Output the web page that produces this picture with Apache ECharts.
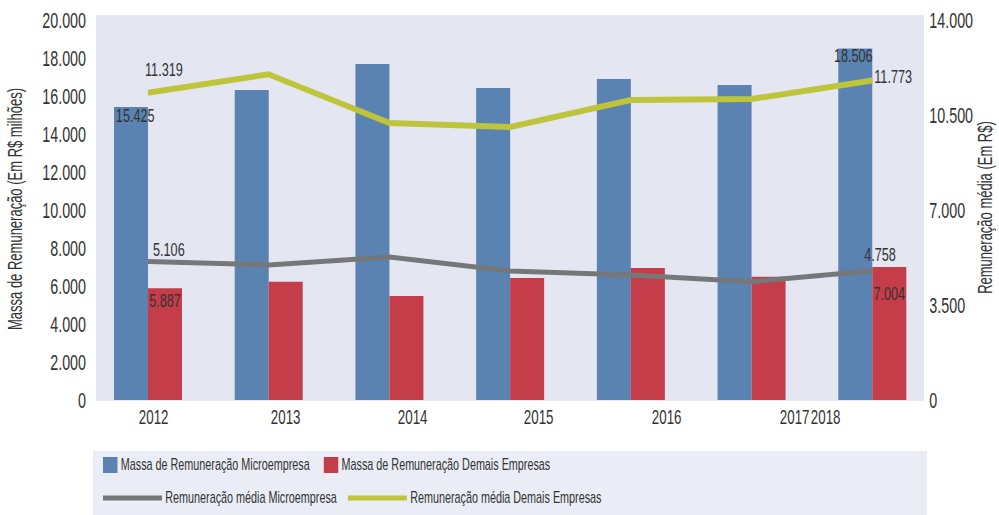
<!DOCTYPE html>
<html>
<head>
<meta charset="utf-8">
<script src="https://cdn.jsdelivr.net/npm/echarts@6/dist/echarts.min.js"></script>
<style>
  html, body { margin: 0; padding: 0; background: #ffffff; overflow: hidden; width: 999px; height: 515px; }
  /* the chart is laid out on a wider canvas and squeezed horizontally,
     which gives every label a condensed typeface */
  #chart { width: 1498.5px; height: 515px; transform: scaleX(0.6666667); transform-origin: 0 0; }
</style>
</head>
<body>
<div id="chart"></div>
<script>
// Anos da série
const categories = ['2012', '2013', '2014', '2015', '2016', '2017', '2018'];

// Massa de remuneração (R$ milhões) - eixo esquerdo
const massaMicro  = [15425, 16316, 17684, 16421, 16895, 16579, 18506];
const massaDemais = [5887, 6228, 5474, 6421, 6947, 6491, 7004];

// Remuneração média (R$) - eixo direito
const mediaMicro  = [5106, 4974, 5268, 4753, 4605, 4358, 4758];
const mediaDemais = [11319, 12000, 10205, 10058, 11053, 11089, 11773];

// Rótulos do eixo horizontal
const yearLabels = ['2012', '2013', '2014', '2015', '2016', '2017', '2018'];

// Ticks dos eixos verticais
const leftTicks  = { min: 0, max: 20000, interval: 2000 };
const rightTicks = { min: 0, max: 14000, interval: 3500 };

const seriesNames = [
  'Massa de Remuneração Microempresa',
  'Massa de Remuneração Demais Empresas',
  'Remuneração média Microempresa',
  'Remuneração média Demais Empresas'
];
const axisNames = ['Massa de Remuneração (Em R$ milhões)', 'Remuneração média (Em R$)'];

// ---- layout / style ----
const SX = 1.5;                       // horizontal stretch of the drawing canvas
const sx = v => v * SX;               // page px -> canvas px (horizontal)
const FONT = "'Liberation Sans', Arial, sans-serif";
const TXT = '#333333';
const COLORS = { blue: '#5b83b1', red: '#c43d49', gray: '#767778', green: '#bec53a' };

const GRID = { left: 87.65, width: 845, top: 20, height: 380 };   // page px
// where the year labels sit along the plot width (page px from the plot's left edge)
const yearLabelSlots = [66, 198, 325, 451, 579, 707, 738];

const fmt = v => String(Math.round(v)).replace(/\B(?=(\d{3})+(?!\d))/g, '.');

// attach a visible label to the first and last point of a series
function withEndLabels(values, firstLabel, lastLabel) {
  const last = values.length - 1;
  return values.map((v, i) => {
    if (i === 0) return { value: v, label: Object.assign({ show: true }, firstLabel) };
    if (i === last) return { value: v, label: Object.assign({ show: true }, lastLabel) };
    return v;
  });
}

const dataLabel = { formatter: p => fmt(p.value), color: TXT, fontSize: 19, fontFamily: FONT };

function yearAxis(slotIdx) {
  const vals = slotIdx.map(i => yearLabelSlots[i]);
  return {
    type: 'value',
    position: 'bottom',
    min: 0, max: GRID.width,
    axisLine: { show: false },
    axisTick: { show: false },
    splitLine: { show: false },
    axisLabel: {
      customValues: vals,
      formatter: v => yearLabels[yearLabelSlots.indexOf(v)] || '',
      color: TXT, fontSize: 20, fontFamily: FONT, margin: 8,
      hideOverlap: false
    }
  };
}

function axisNameText(text, x, y) {
  return {
    type: 'text', silent: true,
    x: sx(x), y: y,
    rotation: Math.PI / 2,
    scaleX: 1 / SX, scaleY: SX,
    style: { text: text, fill: TXT, fontSize: 19.5, fontFamily: FONT, align: 'center', verticalAlign: 'middle' }
  };
}

const chart = echarts.init(document.getElementById('chart'), null, { renderer: 'svg', width: sx(999), height: 515 });

chart.setOption({
  animation: false,
  backgroundColor: '#ffffff',
  textStyle: { fontFamily: FONT },
  graphic: {
    elements: [
      { type: 'rect', z: -100, silent: true, shape: { x: sx(96), y: 15, width: sx(828), height: 386 }, style: { fill: '#e4e7f1' } },
      { type: 'rect', z: -100, silent: true, shape: { x: sx(93), y: 451, width: sx(834), height: 64 }, style: { fill: '#eaedf5' } },
      axisNameText(axisNames[0], 16, 209),
      axisNameText(axisNames[1], 986, 207.5)
    ]
  },
  grid: {
    left: sx(GRID.left), top: GRID.top,
    width: sx(GRID.width), height: GRID.height,
    containLabel: false, outerBoundsMode: 'none'
  },
  legend: [
    {
      data: seriesNames.slice(0, 2),
      left: sx(103), top: 457, padding: 0,
      itemWidth: sx(14.5), itemHeight: 16, itemGap: sx(14),
      icon: 'rect',
      textStyle: { fontSize: 16.2, color: TXT, fontFamily: FONT }
    },
    {
      data: seriesNames.slice(2, 4),
      left: sx(103), top: 490, padding: 0,
      itemWidth: sx(59), itemHeight: 5, itemGap: sx(11),
      icon: 'rect',
      textStyle: { fontSize: 16.2, color: TXT, fontFamily: FONT }
    }
  ],
  xAxis: [
    {
      type: 'category',
      data: categories,
      boundaryGap: true,
      axisLine: { show: false },
      axisTick: { show: false },
      axisLabel: { show: false },
      splitLine: { show: false }
    },
    yearAxis([0, 1, 2, 3, 4, 5]),
    yearAxis([6])
  ],
  yAxis: [
    {
      type: 'value',
      min: leftTicks.min, max: leftTicks.max, interval: leftTicks.interval,
      axisLine: { show: false }, axisTick: { show: false },
      splitLine: { show: false },
      axisLabel: { formatter: fmt, color: TXT, fontSize: 21.5, fontFamily: FONT, margin: sx(1.6) }
    },
    {
      type: 'value',
      min: rightTicks.min, max: rightTicks.max, interval: rightTicks.interval,
      axisLine: { show: false }, axisTick: { show: false },
      splitLine: { show: false },
      axisLabel: { formatter: fmt, color: TXT, fontSize: 21.5, fontFamily: FONT, margin: sx(-3.4) }
    }
  ],
  series: [
    {
      name: seriesNames[0], type: 'bar', xAxisIndex: 0, yAxisIndex: 0,
      barWidth: sx(34), barGap: '0%',
      itemStyle: { color: COLORS.blue },
      label: dataLabel,
      data: withEndLabels(massaMicro,
        { position: 'insideTop', offset: [sx(4.2), -6] },
        { position: 'insideTop', offset: [sx(-2), -8] })
    },
    {
      name: seriesNames[1], type: 'bar', xAxisIndex: 0, yAxisIndex: 0,
      barWidth: sx(34), barGap: '0%',
      itemStyle: { color: COLORS.red },
      label: dataLabel,
      data: withEndLabels(massaDemais,
        { position: 'insideTop', offset: [0, -3] },
        { position: 'insideTop', offset: [0, 11.5] })
    },
    {
      name: seriesNames[2], type: 'line', xAxisIndex: 0, yAxisIndex: 1,
      symbol: 'circle', symbolSize: 1, showSymbol: true,
      lineStyle: { color: COLORS.gray, width: 5 },
      itemStyle: { color: COLORS.gray },
      label: dataLabel,
      data: withEndLabels(mediaMicro,
        { position: 'top', align: 'left', offset: [sx(5), 3] },
        { position: 'top', offset: [sx(7.7), -2.4] })
    },
    {
      name: seriesNames[3], type: 'line', xAxisIndex: 0, yAxisIndex: 1,
      symbol: 'circle', symbolSize: 1, showSymbol: true,
      lineStyle: { color: COLORS.green, width: 6 },
      itemStyle: { color: COLORS.green },
      label: dataLabel,
      data: withEndLabels(mediaDemais,
        { position: 'top', align: 'left', offset: [sx(-3), -8.7] },
        { position: 'right', offset: [sx(-1.7), -4.8] })
    }
  ]
});
</script>
</body>
</html>
